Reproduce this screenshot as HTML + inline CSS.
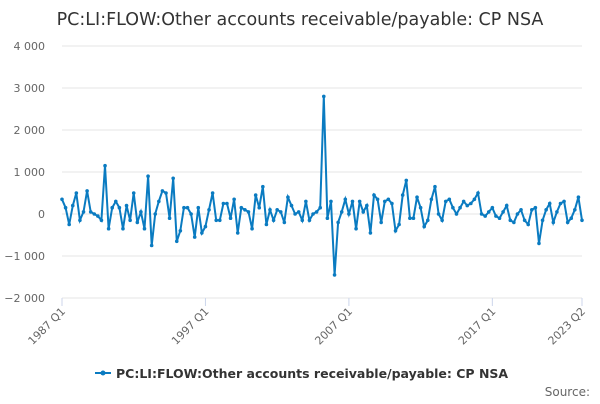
<!DOCTYPE html>
<html><head><meta charset="utf-8"><style>
body{margin:0;background:#fff;font-family:"DejaVu Sans",sans-serif}
svg text{font-family:"DejaVu Sans",sans-serif}
</style></head><body>
<svg id="c" width="600" height="400">
<text x="300" y="25" text-anchor="middle" font-size="17.5" fill="#333">PC:LI:FLOW:Other accounts receivable/payable: CP NSA</text>
<g id="grid"></g><g id="xax"></g>
<path id="line" fill="none" stroke="#0a7bc1" stroke-width="2"></path>
<g id="pts"></g>
<g>
<line x1="95" y1="373" x2="111" y2="373" stroke="#0a7bc1" stroke-width="2"/>
<circle cx="103" cy="373" r="2.5" fill="#0a7bc1"/>
<text x="116" y="378" font-size="12.5" font-weight="bold" fill="#333">PC:LI:FLOW:Other accounts receivable/payable: CP NSA</text>
</g>
<text x="590" y="396" text-anchor="end" font-size="12" fill="#666">Source:</text>
</svg>
<script>
const values=[350,150,-250,200,500,-150,50,550,50,0,
-50,-150,1150,-350,150,300,150,-350,200,-150,
500,-200,50,-350,900,-750,0,300,550,500,
-100,850,-650,-400,150,150,0,-550,150,-450,
-300,100,500,-150,-150,250,250,-100,350,-450,
150,100,50,-350,450,150,650,-250,100,-150,
100,50,-200,400,200,0,50,-150,300,-150,
0,50,150,2800,-100,300,-1450,-200,50,350,
0,300,-350,300,50,200,-450,450,350,-200,
300,350,250,-400,-250,450,800,-100,-100,400,
150,-300,-150,350,650,0,-150,300,350,150,
0,150,300,200,250,350,500,0,-50,50,
150,-50,-100,50,200,-150,-200,0,100,-150,
-250,100,150,-700,-150,100,250,-200,50,250,
300,-200,-100,100,400,-150];
const yTicks=[4000,3000,2000,1000,0,-1000,-2000];
const yTickLabels=["4 000","3 000","2 000","1 000","0","−1 000","−2 000"];
const xTickIdx=[0,40,80,120,145];
const xTickLabels=["1987 Q1","1997 Q1","2007 Q1","2017 Q1","2023 Q2"];
const ns="http://www.w3.org/2000/svg";
const x0=62,x1=582,yTop=46,yBot=298;
const xs=i=>x0+i*(x1-x0)/(values.length-1);
const ys=v=>yBot-(v+2000)/6000*(yBot-yTop);
const grid=document.getElementById('grid');
yTicks.forEach((t,k)=>{
 const l=document.createElementNS(ns,'line');
 l.setAttribute('x1',x0);l.setAttribute('x2',x1);l.setAttribute('y1',ys(t));l.setAttribute('y2',ys(t));
 l.setAttribute('stroke','#e6e6e6');
 
 
 grid.appendChild(l);
 const tx=document.createElementNS(ns,'text');
 tx.setAttribute('x',45);tx.setAttribute('y',ys(t)+4);tx.setAttribute('text-anchor','end');
 tx.setAttribute('font-size','11');tx.setAttribute('fill','#666');tx.textContent=yTickLabels[k];
 
 
 grid.appendChild(tx);
});
const xax=document.getElementById('xax');
xTickIdx.forEach((i,k)=>{
 const x=xs(i);
 const l=document.createElementNS(ns,'line');
 l.setAttribute('x1',x);l.setAttribute('x2',x);l.setAttribute('y1',yBot);l.setAttribute('y2',yBot+8);
 l.setAttribute('stroke','#ccd6eb');
 
 
 xax.appendChild(l);
 const tx=document.createElementNS(ns,'text');
 tx.setAttribute('text-anchor','end');tx.setAttribute('font-size','11');tx.setAttribute('fill','#666');
 tx.setAttribute('transform',`translate(${x+4},${yBot+14}) rotate(-45)`);
 tx.textContent=xTickLabels[k];
 
 
 xax.appendChild(tx);
});
let d='';
const pts=document.getElementById('pts');
values.forEach((v,i)=>{
 d+=(i?'L':'M')+xs(i).toFixed(1)+' '+ys(v).toFixed(1);
 const c=document.createElementNS(ns,'circle');
 c.setAttribute('cx',xs(i));c.setAttribute('cy',ys(v));c.setAttribute('r',1.8);c.setAttribute('fill','#0a7bc1');
 
 
 pts.appendChild(c);
});
document.getElementById('line').setAttribute('d',d);
</script>
</body></html>
